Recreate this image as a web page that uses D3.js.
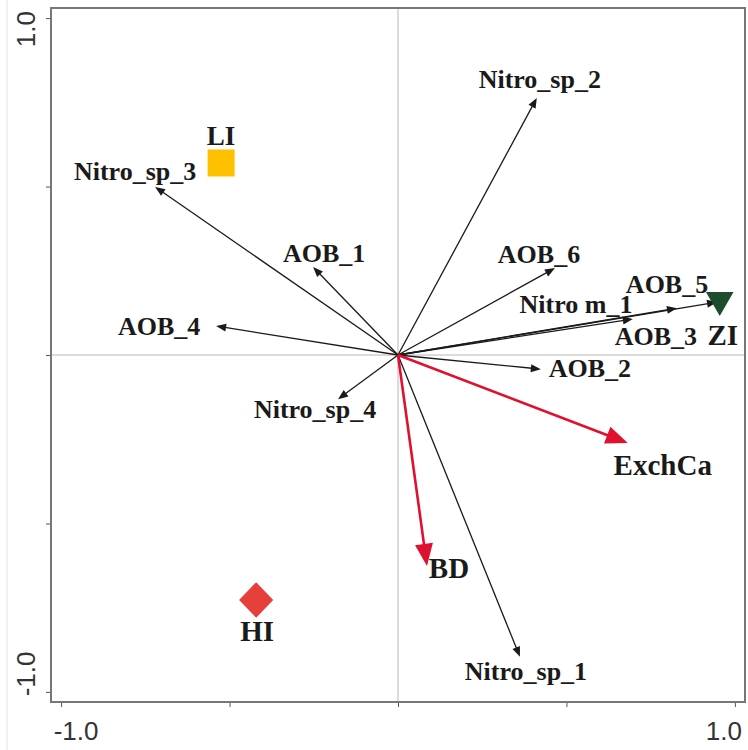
<!DOCTYPE html>
<html>
<head>
<meta charset="utf-8">
<script src="https://cdn.jsdelivr.net/npm/d3@7"></script>
<style>
  html, body { margin: 0; padding: 0; background: #fff; }
</style>
</head>
<body>
<div id="chart"></div>
<script>
/* Species arrows (black) */
const speciesNames = ["Nitro_sp_1", "Nitro_sp_2", "Nitro_sp_3", "Nitro_sp_4", "Nitro m_1",
                      "AOB_1", "AOB_2", "AOB_3", "AOB_4", "AOB_5", "AOB_6"];
const speciesX = [0.362, 0.412, -0.721, -0.178, 0.828, -0.252, 0.424, 0.697, -0.540, 0.947, 0.466];
const speciesY = [-0.896, 0.763, 0.499, -0.131, 0.139, 0.261, -0.042, 0.107, 0.086, 0.157, 0.258];

/* Environmental arrows (red) */
const envNames = ["ExchCa", "BD"];
const envX = [0.682, 0.086];
const envY = [-0.261, -0.626];

/* Sites */
const siteNames = ["LI", "ZI", "HI"];
const siteX = [-0.525, 0.955, -0.421];
const siteY = [0.570, 0.163, -0.727];

const tickValues = [-1, -0.5, 0, 0.5, 1];
const tickLabels = { "-1": "-1.0", "1": "1.0" };

/* label offsets from arrow tip / symbol centre, in px */
const labelOffset = {
  "Nitro_sp_1": [6, 23], "Nitro_sp_2": [3, -10], "Nitro_sp_3": [-20, -7], "Nitro_sp_4": [-23, 19],
  "Nitro m_1": [-101, 5], "AOB_1": [11, -5], "AOB_2": [49, 8], "AOB_3": [23, 26],
  "AOB_4": [-57, 9], "AOB_5": [-50, -9], "AOB_6": [-16, -5],
  "ExchCa": [35, 32], "BD": [22, 12],
  "LI": [0, -18], "ZI": [3, 45], "HI": [1, 41]
};

const W = 748, H = 750;
const svg = d3.select("#chart").append("svg").attr("width", W).attr("height", H);

const x = d3.scaleLinear().domain([-1.03, 1.03]).range([51, 745]);
const y = d3.scaleLinear().domain([-1.03, 1.03]).range([702, 8]);

/* faint outer line at far left */
svg.append("line").attr("x1", 7).attr("x2", 7).attr("y1", 0).attr("y2", H)
  .style("stroke", "#e2e2e2").style("stroke-width", 1);

/* zero lines */
svg.append("line").attr("x1", x(-1.03)).attr("x2", x(1.03)).attr("y1", y(0)).attr("y2", y(0))
  .style("stroke", "#cfcfcf").style("stroke-width", 1.5);
svg.append("line").attr("x1", x(0)).attr("x2", x(0)).attr("y1", y(-1.03)).attr("y2", y(1.03))
  .style("stroke", "#cfcfcf").style("stroke-width", 1.5);

/* axes */
const xAxis = svg.append("g").attr("transform", `translate(0,${y(-1.03)})`)
  .call(d3.axisBottom(x).tickValues(tickValues).tickSize(5).tickFormat(""));
const yAxis = svg.append("g").attr("transform", `translate(${x(-1.03)},0)`)
  .call(d3.axisLeft(y).tickValues(tickValues).tickSize(5).tickFormat(""));
[xAxis, yAxis].forEach(g => {
  g.select(".domain").remove();
  g.selectAll("line").style("stroke", "#555").style("stroke-width", 1);
});

/* frame */
svg.append("rect").attr("x", x(-1.03)).attr("y", y(1.03))
  .attr("width", x(1.03) - x(-1.03)).attr("height", y(-1.03) - y(1.03))
  .style("fill", "none").style("stroke", "#777").style("stroke-width", 2);

/* tick labels (only at +/-1) */
const tickFont = "'Liberation Sans', Arial, sans-serif";
[-1, 1].forEach(v => {
  svg.append("text")
    .attr("x", x(v) + (v < 0 ? 15 : -11))
    .attr("y", 740)
    .attr("text-anchor", "middle")
    .style("font-family", tickFont).style("font-size", "26px").style("fill", "#333")
    .text(tickLabels[v]);
  const cy = y(v) + (v > 0 ? 11 : -18);
  svg.append("text")
    .attr("transform", `translate(35,${cy}) rotate(-90)`)
    .attr("text-anchor", "middle")
    .style("font-family", tickFont).style("font-size", "26px").style("fill", "#333")
    .text(tickLabels[v]);
});

/* arrow drawing helper */
function arrow(g, x1, y1, color, width, headLen, headHalf) {
  const x0 = x(0), y0 = y(0), tx = x(x1), ty = y(y1);
  const ang = Math.atan2(ty - y0, tx - x0);
  const bx = tx - headLen * Math.cos(ang), by = ty - headLen * Math.sin(ang);
  g.append("line").attr("x1", x0).attr("y1", y0).attr("x2", bx + Math.cos(ang)).attr("y2", by + Math.sin(ang))
    .style("stroke", color).style("stroke-width", width);
  const px = -Math.sin(ang) * headHalf, py = Math.cos(ang) * headHalf;
  g.append("polygon")
    .attr("points", `${tx},${ty} ${bx + px},${by + py} ${bx - px},${by - py}`)
    .style("fill", color);
}

const labelFont = "'Liberation Serif', 'Times New Roman', serif";
const arrows = svg.append("g");

speciesNames.forEach((n, i) => {
  arrow(arrows, speciesX[i], speciesY[i], "#1a1a1a", 1.3, 10, 4);
});
envNames.forEach((n, i) => {
  arrow(arrows, envX[i], envY[i], "#e0102f", 2.6, 22, 9);
});

/* sites */
const siteColor = { LI: "#ffc000", ZI: "#1c4d2c", HI: "#e5403a" };
const siteShape = { LI: d3.symbolSquare, ZI: d3.symbolTriangle, HI: d3.symbolDiamond };
const siteSize = { LI: 730, ZI: 330, HI: 420 };
siteNames.forEach((n, i) => {
  const rot = n === "ZI" ? 180 : (n === "HI" ? 0 : 0);
  svg.append("path")
    .attr("d", d3.symbol().type(siteShape[n]).size(siteSize[n])())
    .attr("transform", `translate(${x(siteX[i])},${y(siteY[i])}) rotate(${rot})` + (n === "HI" ? " scale(1.55,0.93)" : ""))
    .style("fill", siteColor[n]);
});

/* labels */
function label(name, px, py, size) {
  const o = labelOffset[name];
  svg.append("text")
    .attr("x", px + o[0]).attr("y", py + o[1])
    .attr("text-anchor", "middle")
    .style("font-family", labelFont).style("font-weight", "bold")
    .style("font-size", size + "px").style("fill", "#1a1a1a")
    .text(name);
}
speciesNames.forEach((n, i) => label(n, x(speciesX[i]), y(speciesY[i]), 26));
envNames.forEach((n, i) => label(n, x(envX[i]), y(envY[i]), 29));
siteNames.forEach((n, i) => label(n, x(siteX[i]), y(siteY[i]), n === "LI" ? 27 : 29));
</script>
</body>
</html>
